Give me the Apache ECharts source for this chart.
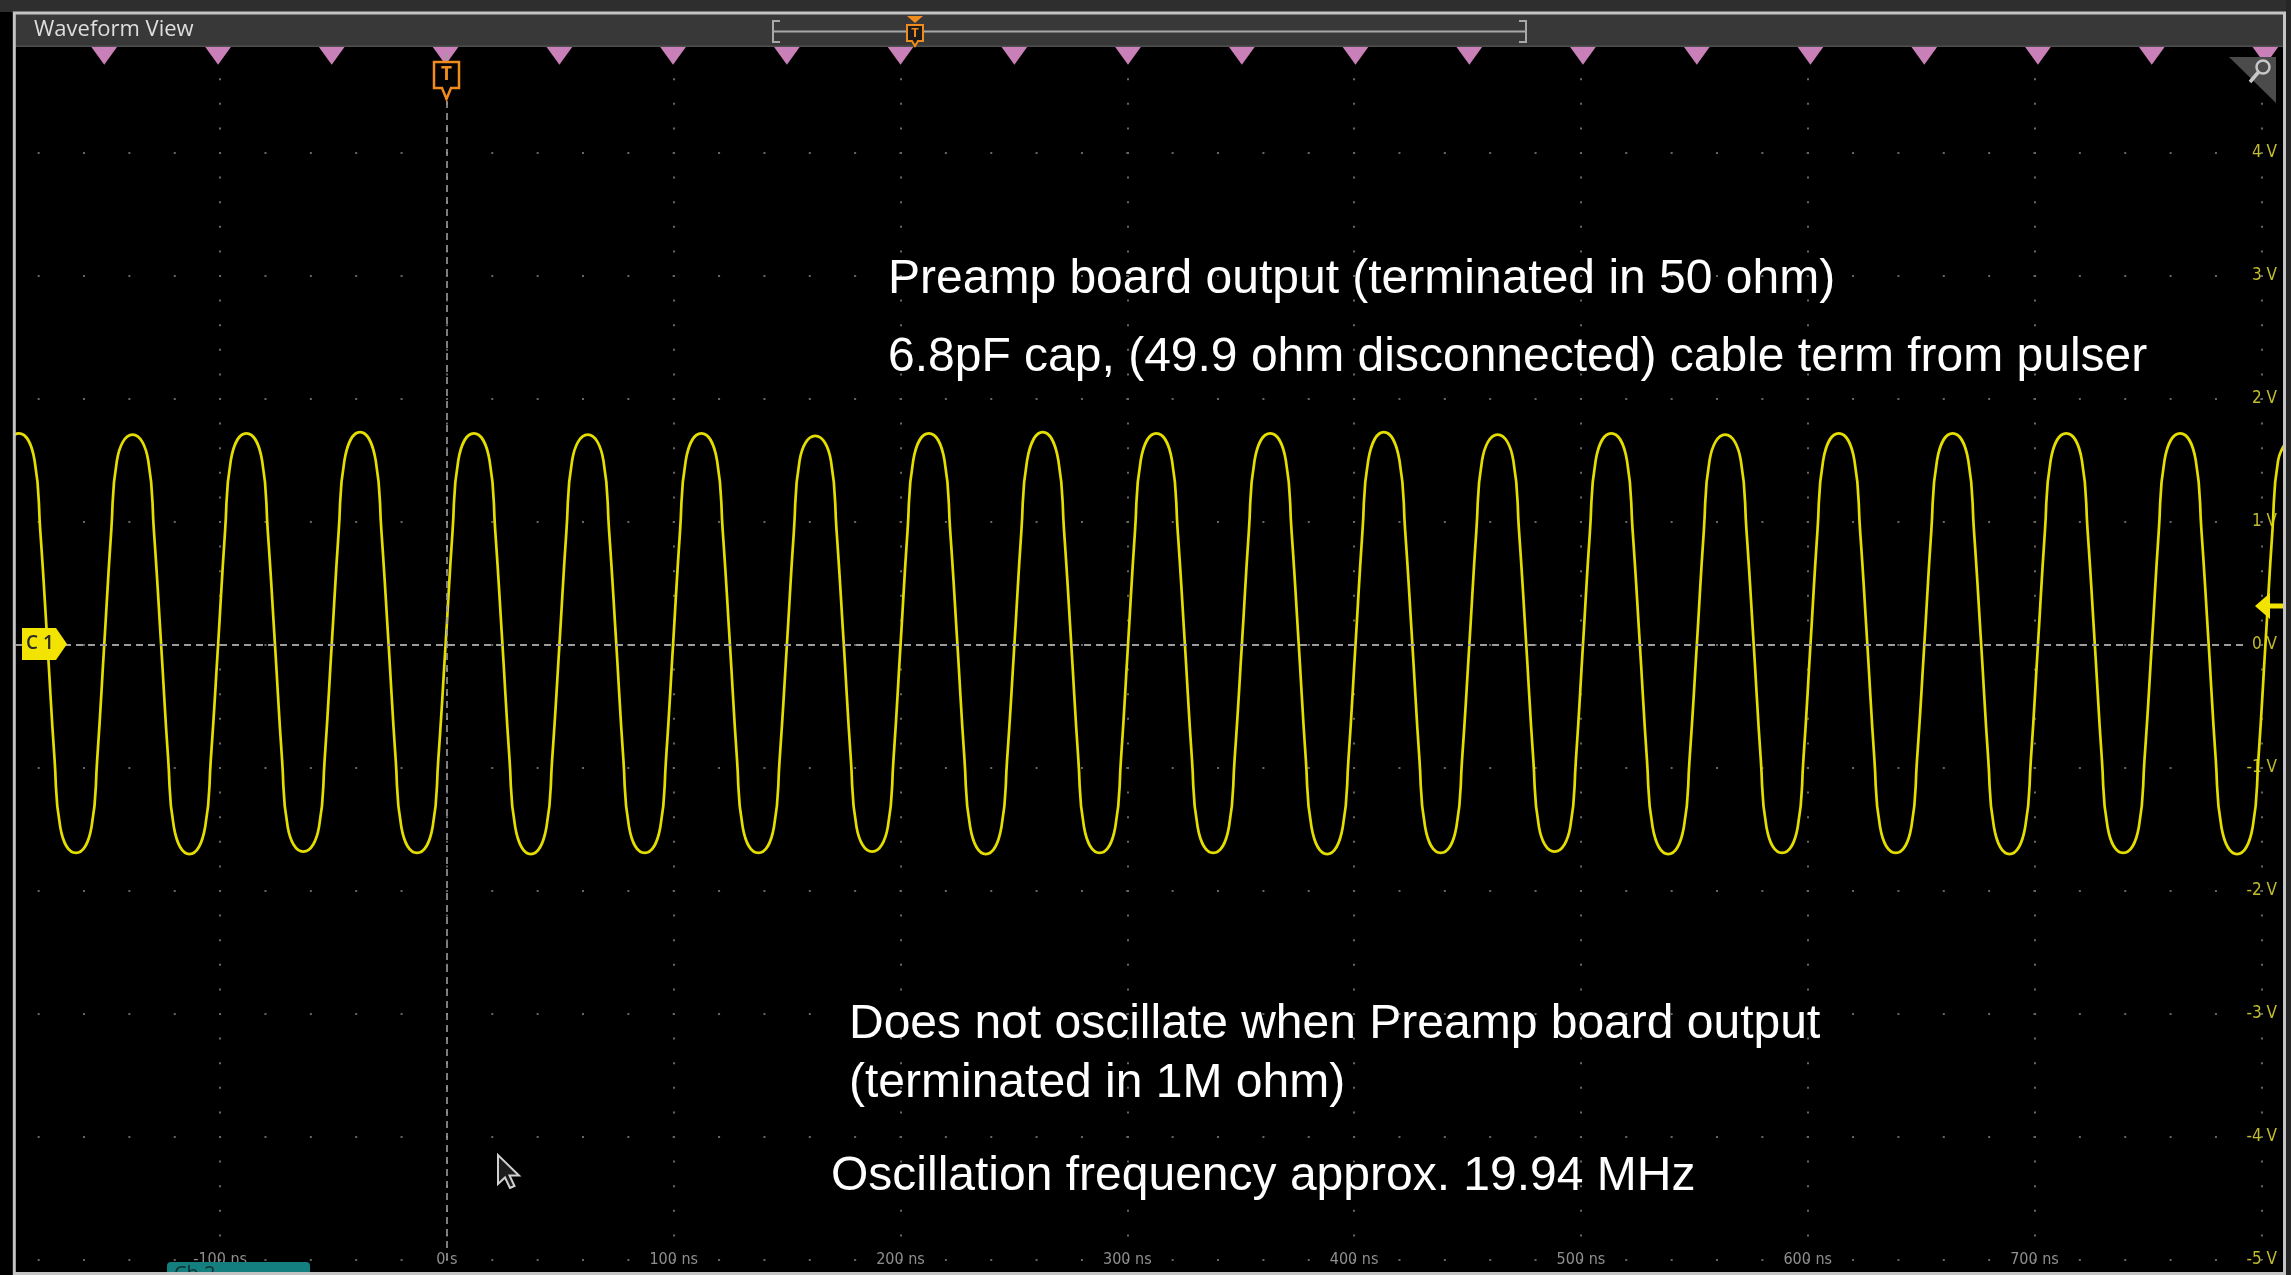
<!DOCTYPE html>
<html><head><meta charset="utf-8">
<script src="https://cdn.jsdelivr.net/npm/echarts@6/dist/echarts.min.js"></script>
<style>html,body{margin:0;padding:0;background:#000;overflow:hidden}#c{width:2291px;height:1275px}</style>
</head><body><div id="c"></div><script>
// ---- data ----
const traceTimeNs = [
 -201.2,-198.1,-195.6,-188.7,-181.8,-179.3,-176.1,-173.0,-170.5,-163.6,-156.7,-154.2,
 -151.1,-148.0,-145.5,-138.6,-131.7,-129.2,-126.0,-122.9,-120.4,-113.5,-106.6,-104.1,
 -100.9,-97.8,-95.3,-88.4,-81.5,-79.0,-75.8,-72.7,-70.2,-63.3,-56.4,-53.9,
 -50.8,-47.7,-45.2,-38.3,-31.4,-28.9,-25.7,-22.6,-20.1,-13.2,-6.3,-3.8,
 -0.6,2.5,5.0,11.9,18.8,21.3,24.5,27.6,30.1,37.0,43.9,46.4,
 49.6,52.7,55.2,62.1,69.0,71.5,74.7,77.8,80.3,87.2,94.1,96.6,
 99.7,102.8,105.3,112.2,119.1,121.6,124.8,127.9,130.4,137.3,144.2,146.7,
 149.9,153.0,155.5,162.4,169.3,171.8,175.0,178.1,180.6,187.5,194.4,196.9,
 200.0,203.1,205.6,212.5,219.4,221.9,225.1,228.2,230.7,237.6,244.5,247.0,
 250.2,253.3,255.8,262.7,269.6,272.1,275.3,278.4,280.9,287.8,294.7,297.2,
 300.3,303.4,305.9,312.8,319.7,322.2,325.4,328.5,331.0,337.9,344.8,347.3,
 350.5,353.6,356.1,363.0,369.9,372.4,375.6,378.7,381.2,388.1,395.0,397.5,
 400.6,403.7,406.2,413.1,420.0,422.5,425.7,428.8,431.3,438.2,445.1,447.6,
 450.8,453.9,456.4,463.3,470.2,472.7,475.9,479.0,481.5,488.4,495.3,497.8,
 500.9,504.0,506.5,513.4,520.3,522.8,526.0,529.1,531.6,538.5,545.4,547.9,
 551.1,554.2,556.7,563.6,570.5,573.0,576.2,579.3,581.8,588.7,595.6,598.1,
 601.2,604.3,606.8,613.7,620.6,623.1,626.3,629.4,631.9,638.8,645.7,648.2,
 651.4,654.5,657.0,663.9,670.8,673.3,676.5,679.6,682.1,689.0,695.9,698.4,
 701.5,704.6,707.1,714.0,720.9,723.4,726.6,729.7,732.2,739.1,746.0,748.5,
 751.7,754.8,757.3,764.2,771.1,773.6,776.8,779.9,782.4,789.3,796.2,798.7,
 801.8,804.9,807.4,814.3
];
const traceVolts = [
 0,0.93,1.50,1.72,1.50,0.93,0,-0.93,-1.48,-1.69,-1.48,-0.93,
 0,0.93,1.50,1.71,1.50,0.93,0,-0.93,-1.48,-1.70,-1.48,-0.93,
 0,0.93,1.50,1.72,1.50,0.93,0,-0.93,-1.48,-1.68,-1.48,-0.93,
 0,0.93,1.50,1.73,1.50,0.93,0,-0.93,-1.48,-1.69,-1.48,-0.93,
 0,0.93,1.50,1.72,1.50,0.93,0,-0.93,-1.48,-1.70,-1.48,-0.93,
 0,0.93,1.50,1.71,1.50,0.93,0,-0.93,-1.48,-1.69,-1.48,-0.93,
 0,0.93,1.50,1.72,1.50,0.93,0,-0.93,-1.48,-1.69,-1.48,-0.93,
 0,0.93,1.50,1.70,1.50,0.93,0,-0.93,-1.48,-1.68,-1.48,-0.93,
 0,0.93,1.50,1.72,1.50,0.93,0,-0.93,-1.48,-1.70,-1.48,-0.93,
 0,0.93,1.50,1.73,1.50,0.93,0,-0.93,-1.48,-1.69,-1.48,-0.93,
 0,0.93,1.50,1.72,1.50,0.93,0,-0.93,-1.48,-1.69,-1.48,-0.93,
 0,0.93,1.50,1.72,1.50,0.93,0,-0.93,-1.48,-1.70,-1.48,-0.93,
 0,0.93,1.50,1.73,1.50,0.93,0,-0.93,-1.48,-1.69,-1.48,-0.93,
 0,0.93,1.50,1.71,1.50,0.93,0,-0.93,-1.48,-1.68,-1.48,-0.93,
 0,0.93,1.50,1.72,1.50,0.93,0,-0.93,-1.48,-1.70,-1.48,-0.93,
 0,0.93,1.50,1.71,1.50,0.93,0,-0.93,-1.48,-1.69,-1.48,-0.93,
 0,0.93,1.50,1.72,1.50,0.93,0,-0.93,-1.48,-1.69,-1.48,-0.93,
 0,0.93,1.50,1.72,1.50,0.93,0,-0.93,-1.48,-1.70,-1.48,-0.93,
 0,0.93,1.50,1.72,1.50,0.93,0,-0.93,-1.48,-1.69,-1.48,-0.93,
 0,0.93,1.50,1.72,1.50,0.93,0,-0.93,-1.48,-1.70,-1.48,-0.93,
 0,0.93,1.50,1.72
];
// rising-edge measurement markers (pink triangles)
const risingEdgeNs = [-151.1,-100.9,-50.8,-0.6,49.6,99.7,149.9,200.0,250.2,300.3,350.5,400.6,450.8,500.9,551.1,601.2,651.4,701.5,751.7,801.8];
const markerLevelV = 4.79;
const timeRangeNs = [-190, 810];
const voltRange = [-5, 5];
const hiddenTimeLabels = [800];
const notes = [
  "Preamp board output (terminated in 50 ohm)",
  "6.8pF cap, (49.9 ohm disconnected) cable term from pulser",
  "Does not oscillate when Preamp board output",
  "(terminated in 1M ohm)",
  "Oscillation frequency approx. 19.94 MHz"
];
const headerTitle = "Waveform View";
const channelLabel = "C 1";
const tabLabel = "Ch 2";

// ---- chart ----
const narrow = '"Liberation Sans Narrow","DejaVu Sans Condensed","Roboto",sans-serif';
const chart = echarts.init(document.getElementById('c'), null, {renderer: 'canvas'});
const orange = '#f08c1e';
const notePos = [[888, 280], [888, 358], [849, 1025], [849, 1084], [831, 1177]];

const graphics = [];
graphics.push({type: 'rect', shape: {x: 0, y: 0, width: 2291, height: 12}, style: {fill: '#2e2e2e'}, z: 100});
graphics.push({type: 'rect', shape: {x: 2286, y: 0, width: 5, height: 1275}, style: {fill: '#262626'}, z: 100});
graphics.push({type: 'rect', shape: {x: 14, y: 14, width: 2270, height: 32}, style: {fill: '#383838'}, z: 100});
graphics.push({type: 'rect', shape: {x: 14, y: 45.5, width: 2270, height: 1.5}, style: {fill: '#4e4e4e'}, z: 100});
graphics.push({type: 'text', x: 34, y: 30, style: {text: headerTitle, fill: '#dedede', font: '22px "Open Sans", sans-serif', textVerticalAlign: 'middle'}, z: 101});
graphics.push({type: 'line', shape: {x1: 773, y1: 31.5, x2: 1526, y2: 31.5}, style: {stroke: '#a8a8a8', lineWidth: 2}, z: 101});
graphics.push({type: 'polyline', shape: {points: [[780, 21], [773, 21], [773, 42], [780, 42]]}, style: {stroke: '#a8a8a8', lineWidth: 2, fill: null}, z: 101});
graphics.push({type: 'polyline', shape: {points: [[1519, 21], [1526, 21], [1526, 42], [1519, 42]]}, style: {stroke: '#a8a8a8', lineWidth: 2, fill: null}, z: 101});
graphics.push({type: 'polygon', shape: {points: [[907, 16], [923, 16], [915, 23]]}, style: {fill: orange}, z: 102});
graphics.push({type: 'polygon', shape: {points: [[907, 25], [923, 25], [923, 41], [918, 41], [915, 46], [912, 41], [907, 41]]}, style: {fill: '#1a1a1a', stroke: orange, lineWidth: 2}, z: 102});
graphics.push({type: 'text', x: 915, y: 33, style: {text: 'T', fill: orange, font: 'bold 13px "Open Sans", sans-serif', textAlign: 'center', textVerticalAlign: 'middle'}, z: 103});
graphics.push({type: 'polygon', shape: {points: [[434, 62], [459, 62], [459, 88], [451, 88], [446.5, 99], [442, 88], [434, 88]]}, style: {fill: '#000', stroke: orange, lineWidth: 2.5}, z: 102});
graphics.push({type: 'text', x: 446.5, y: 75, style: {text: 'T', fill: orange, font: 'bold 19px "Open Sans", sans-serif', textAlign: 'center', textVerticalAlign: 'middle'}, z: 103});
graphics.push({type: 'polygon', shape: {points: [[2229, 57], [2276, 57], [2276, 103]]}, style: {fill: '#4b4b4b'}, z: 101});
graphics.push({type: 'circle', shape: {cx: 2263, cy: 67, r: 6.5}, style: {stroke: '#c8c8c8', lineWidth: 2.5, fill: null}, z: 102});
graphics.push({type: 'line', shape: {x1: 2258.5, y1: 72, x2: 2250, y2: 82}, style: {stroke: '#c8c8c8', lineWidth: 3.5}, z: 102});
graphics.push({type: 'polygon', shape: {points: [[22, 628], [56, 628], [67, 644], [56, 660], [22, 660]]}, style: {fill: '#f2e400'}, z: 102});
graphics.push({type: 'text', x: 40, y: 644, style: {text: channelLabel, fill: '#2a2a2a', font: '600 19px "Open Sans", sans-serif', textAlign: 'center', textVerticalAlign: 'middle'}, z: 103});
graphics.push({type: 'polygon', shape: {points: [[2255, 606], [2270, 593], [2270, 619]]}, style: {fill: '#f2e400'}, z: 102});
graphics.push({type: 'rect', shape: {x: 2268, y: 603.5, width: 16, height: 5}, style: {fill: '#f2e400'}, z: 102});
graphics.push({type: 'polygon', shape: {points: [[498, 1155], [498, 1184], [505, 1177.5], [510, 1188], [514.5, 1186], [509.5, 1175.5], [519, 1175.5]]}, style: {fill: '#1c1c1c', stroke: '#d0d0d0', lineWidth: 2}, z: 102});
graphics.push({type: 'rect', shape: {x: 167, y: 1262, width: 143, height: 20, r: [4, 4, 0, 0]}, style: {fill: '#137f7f'}, z: 101});
graphics.push({type: 'text', x: 174, y: 1264, style: {text: tabLabel, fill: '#0d2f2f', font: '20px "Open Sans", sans-serif', textVerticalAlign: 'top'}, z: 102});
graphics.push({type: 'rect', shape: {x: 14.3, y: 13, width: 2270.2, height: 1260.5}, style: {fill: null, stroke: '#c4c4c4', lineWidth: 3}, z: 104});
notes.forEach((t, i) => {
  graphics.push({type: 'text', x: notePos[i][0], y: notePos[i][1], style: {text: t, fill: '#ffffff', font: '48px "Liberation Sans", Arial, sans-serif', textVerticalAlign: 'middle'}, z: 105});
});

const option = {
  backgroundColor: '#000',
  animation: false,
  grid: {left: 16, top: 30, width: 2268, height: 1230, containLabel: false, outerBoundsMode: 'none'},
  xAxis: {
    type: 'value', min: timeRangeNs[0], max: timeRangeNs[1], splitNumber: 10,
    axisLine: {show: false}, axisTick: {show: false},
    axisLabel: {
      showMinLabel: false, showMaxLabel: false, margin: 0, verticalAlign: 'middle',
      color: '#8f8f8f', fontFamily: narrow, fontSize: 16,
      formatter: v => hiddenTimeLabels.includes(v) ? '' : (v === 0 ? '0 s' : v + ' ns')
    },
    splitLine: {show: true, showMinLine: false, showMaxLine: false,
      lineStyle: {color: '#666666', width: 2, type: [2, 22.6], dashOffset: 1}}
  },
  yAxis: {
    type: 'value', min: voltRange[0], max: voltRange[1], interval: 1, position: 'right',
    axisLine: {show: false}, axisTick: {show: false},
    axisLabel: {inside: true, margin: 7, color: '#c2bd2c', fontFamily: narrow, fontSize: 17,
      formatter: v => v + ' V'},
    splitLine: {show: true, lineStyle: {color: '#666666', width: 2, type: [2, 43.36], dashOffset: 23.68}}
  },
  series: [
    {
      type: 'scatter', z: 2,
      data: risingEdgeNs.map(t => [t, markerLevelV]),
      symbol: 'triangle', symbolRotate: 180, symbolSize: [26, 18],
      itemStyle: {color: '#c97fb7', opacity: 1},
      silent: true,
      markLine: {
        silent: true, symbol: ['none', 'none'], label: {show: false}, animation: false,
        data: [
          [{coord: [timeRangeNs[0], 0], lineStyle: {color: '#9c9c9c', width: 2, type: [7, 5]}}, {coord: [793, 0]}],
          [{coord: [0, voltRange[0]], lineStyle: {color: '#9c9c9c', width: 1.6, type: [7, 5]}}, {coord: [0, voltRange[1]]}]
        ]
      }
    },
    {
      type: 'line', z: 3,
      data: traceTimeNs.map((t, i) => [t, traceVolts[i]]),
      smooth: 0.5, showSymbol: false, clip: true,
      lineStyle: {color: '#e4dd00', width: 2.7},
      silent: true
    }
  ],
  graphic: {elements: graphics}
};
chart.setOption(option);
</script></body></html>
